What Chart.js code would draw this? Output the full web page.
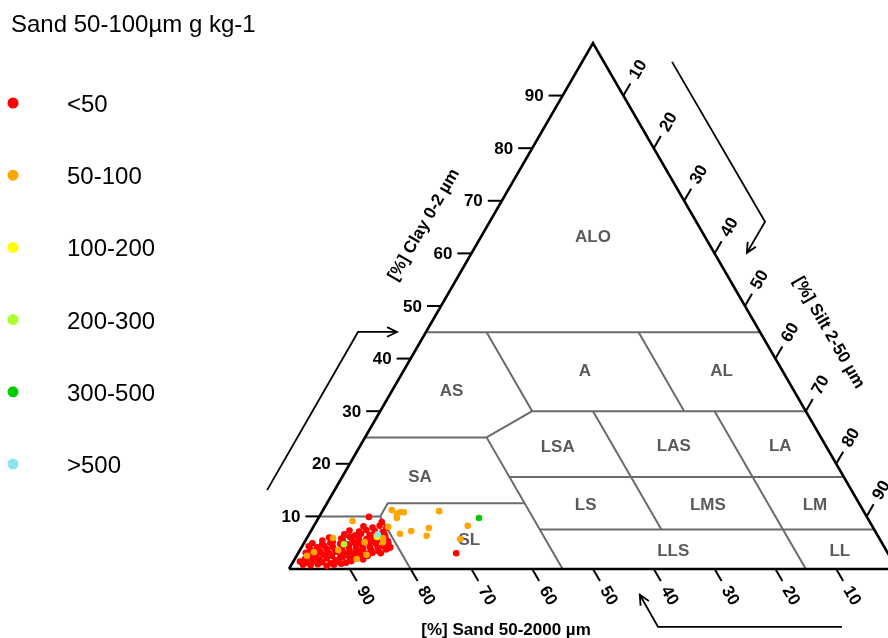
<!DOCTYPE html>
<html>
<head>
<meta charset="utf-8">
<title>Texture triangle - sand 50-100 µm</title>
<script src="https://cdn.jsdelivr.net/npm/chart.js"></script>
<style>
  html, body { margin: 0; padding: 0; background: #fff; }
  #wrap { width: 888px; height: 638px; }
</style>
</head>
<body>
<div id="wrap"><canvas id="triangle" width="888" height="638"></canvas></div>
<script>
// Classes of fine sand 50-100 µm (g kg-1)
const classLabels = ['<50', '50-100', '100-200', '200-300', '300-500', '>500'];
const classColors = ['#ff0000', '#ffa500', '#ffff00', '#adff2f', '#00cd00', '#8ee5ee'];

// Samples: sand 50-2000 µm (%) and clay 0-2 µm (%), one pair of arrays per class
const sandLt50 = [
  97.3, 96.1, 94.8, 93.5, 92.2, 90.9,
  97.5, 96.4, 95.2, 93.9, 92.6, 91.3, 90.0, 89.0,
  96.4, 95.3, 94.1, 92.8, 91.5, 90.1, 89.0, 87.9, 86.9,
  95.5, 94.3, 93.0, 91.7, 90.4, 89.2, 88.1, 86.9, 85.8,
  95.7, 94.6, 93.2, 91.9, 90.6, 89.3, 88.1, 87.0, 85.8, 84.7, 83.4,
  94.6, 93.3, 91.9, 90.6, 89.5, 88.2, 87.0, 85.9, 84.7, 83.6, 82.2,
  94.6, 93.3, 92.0, 90.7, 89.3, 88.0, 86.9, 85.7, 84.6, 83.4, 82.3, 81.3,
  93.7, 92.2, 90.7, 89.2, 87.9, 86.7, 85.6, 84.4, 83.3, 82.1, 81.2,
  91.8, 90.2, 88.4, 86.9, 85.7, 84.6, 83.4, 82.3, 81.1,
  90.4, 88.5, 86.9, 85.6, 84.4, 83.3, 82.1, 81.1,
  87.6, 85.9, 84.8, 83.5, 82.0, 81.0,
  86.4, 84.9, 83.6, 82.3, 81.1,
  83.7, 82.3, 81.0,
  81.9, 80.3, 71.0, 80.1, 81.7
];
const clayLt50 = [
  0.8, 0.7, 0.9, 0.6, 0.8, 1.0,
  1.4, 1.2, 1.5, 1.3, 1.1, 1.4, 1.2, 1.5,
  1.9, 2.1, 1.8, 2.0, 1.7, 2.2, 1.9, 2.0, 1.8,
  2.6, 2.4, 2.7, 2.5, 2.3, 2.6, 2.4, 2.7, 2.5,
  3.1, 2.9, 3.2, 3.0, 3.3, 2.9, 3.1, 3.2, 2.9, 3.1, 3.0,
  3.7, 3.5, 3.8, 3.6, 3.4, 3.7, 3.5, 3.8, 3.6, 3.4, 3.7,
  4.3, 4.1, 4.4, 4.2, 4.0, 4.3, 4.1, 4.4, 4.2, 4.0, 4.3, 4.1,
  4.9, 4.7, 5.0, 4.8, 4.6, 4.9, 4.7, 5.0, 4.8, 4.6, 4.9,
  5.4, 5.2, 5.5, 5.3, 5.1, 5.4, 5.2, 5.5, 5.3,
  6.0, 5.8, 6.1, 5.9, 5.7, 6.0, 5.8, 6.1,
  6.6, 6.4, 6.7, 6.5, 6.3, 6.6,
  7.3, 7.1, 7.4, 7.2, 7.0,
  8.1, 7.9, 8.2,
  9.9, 8.9, 3.0, 7.8, 4.0
];
const sand50to100 = [85.0, 77.5, 77.0, 77.4, 76.3, 75.7, 69.8, 78.4, 76.3, 73.1, 74.2, 66.5, 69.0,
                     89.8, 87.9, 94.3, 85.0, 81.6, 85.9, 90.1, 82.0, 95.8, 79.7];
const clay50to100 = [9.1, 11.2, 10.5, 9.7, 10.8, 10.8, 11.0, 6.7, 7.2, 7.8, 6.3, 8.2, 5.7,
                     5.9, 1.9, 3.2, 5.1, 5.9, 2.7, 3.6, 5.1, 2.5, 8.0];
const sand100to200 = [82.5];
const clay100to200 = [6.1];
const sand200to300 = [88.6];
const clay200to300 = [4.7];
const sand300to500 = [63.9];
const clay300to500 = [9.7];
const sandGt500 = [82.1];
const clayGt500 = [6.6];

// Axis ticks (%)
const tickValues = [10, 20, 30, 40, 50, 60, 70, 80, 90];

// Texture classes (Aisne triangle): name and a (sand, clay) spot for the label
const regionNames = ['ALO', 'A', 'AL', 'AS', 'LSA', 'LAS', 'LA', 'SA', 'LS', 'LMS', 'LM', 'S', 'SL', 'LLS', 'LL'];
const regionSand  = [18.5, 32.6, 10.1, 56.4, 44.2, 25.0, 7.5, 69.7, 45.1, 25.0, 7.4, 88.3, 67.6, 35.1, 7.7];
const regionClay  = [63.0, 37.5, 37.5, 33.7, 23.2, 23.4, 23.4, 17.5, 12.2, 12.2, 12.2, 4.9, 5.5, 3.4, 3.4];

// Class boundaries as (sand, clay) vertices
const borders = [
  [[55, 45], [0, 45]],
  [[45, 45], [45, 30], [55, 25], [55, 0]],
  [[75, 25], [55, 25]],
  [[45, 30], [0, 30]],
  [[20, 45], [20, 30]],
  [[35, 30], [35, 7.5]],
  [[15, 30], [15, 0]],
  [[55, 17.5], [0, 17.5]],
  [[55, 7.5], [0, 7.5]],
  [[90, 10], [80, 10], [77.5, 12.5], [55, 12.5]],
  [[80, 10], [80, 0]]
];
const frame = [[100, 0], [0, 100], [0, 0], [100, 0]];

// ternary (sand, clay) -> plot units; silt = 100 - sand - clay
const tern = (sand, clay) => ({ x: 100 - sand - clay / 2, y: clay });

const classSand = [sandLt50, sand50to100, sand100to200, sand200to300, sand300to500, sandGt500];
const classClay = [clayLt50, clay50to100, clay100to200, clay200to300, clay300to500, clayGt500];
const drawOrder = [5, 4, 2, 3, 0, 1];

const pointSets = classLabels.map((lab, i) => ({
  label: lab,
  data: classSand[i].map((s, j) => tern(s, classClay[i][j])),
  backgroundColor: classColors[i],
  borderWidth: 0,
  pointRadius: 3.3,
  order: drawOrder[i]
}));

const borderSets = borders.map(path => ({
  data: path.map(p => tern(p[0], p[1])),
  showLine: true,
  borderColor: '#6b6b6b',
  borderWidth: 2,
  pointRadius: 0,
  order: 20
}));

const frameSet = {
  data: frame.map(p => tern(p[0], p[1])),
  showLine: true,
  borderColor: '#000',
  borderWidth: 2.6,
  pointRadius: 0,
  order: 10
};

const FONT = '"Liberation Sans", Arial, sans-serif';

function arrow(ctx, pts) {
  ctx.beginPath();
  ctx.moveTo(pts[0][0], pts[0][1]);
  for (let i = 1; i < pts.length; i++) ctx.lineTo(pts[i][0], pts[i][1]);
  ctx.stroke();
  const a = pts[pts.length - 2], b = pts[pts.length - 1];
  const ang = Math.atan2(b[1] - a[1], b[0] - a[0]);
  ctx.beginPath();
  ctx.moveTo(b[0] - 11 * Math.cos(ang - 0.45), b[1] - 11 * Math.sin(ang - 0.45));
  ctx.lineTo(b[0], b[1]);
  ctx.lineTo(b[0] - 11 * Math.cos(ang + 0.45), b[1] - 11 * Math.sin(ang + 0.45));
  ctx.stroke();
}

const decor = {
  id: 'decor',
  beforeDatasetsDraw(chart) {
    const { ctx, scales: { x, y } } = chart;
    ctx.save();
    ctx.font = 'bold 17px ' + FONT;
    ctx.fillStyle = '#5a5a5a';
    ctx.textAlign = 'center';
    ctx.textBaseline = 'middle';
    regionNames.forEach((n, i) => {
      const t = tern(regionSand[i], regionClay[i]);
      ctx.fillText(n, x.getPixelForValue(t.x), y.getPixelForValue(t.y));
    });
    ctx.restore();
  },
  afterDatasetsDraw(chart) {
    const { ctx, scales: { x, y } } = chart;
    const px = (sand, clay) => {
      const t = tern(sand, clay);
      return [x.getPixelForValue(t.x), y.getPixelForValue(t.y)];
    };
    const pp = (u, v) => [x.getPixelForValue(u), y.getPixelForValue(v)];

    // edge directions in pixels
    const left = px(100, 0), apex = px(0, 100), right = px(0, 0);
    const unit = (a, b) => { const dx = b[0] - a[0], dy = b[1] - a[1], l = Math.hypot(dx, dy); return [dx / l, dy / l]; };
    const upRight = unit(left, apex);
    const downRight = unit(apex, right);

    ctx.save();
    ctx.strokeStyle = '#000';
    ctx.fillStyle = '#000';
    ctx.lineWidth = 2;
    ctx.font = 'bold 17px ' + FONT;
    const tl = 14;

    tickValues.forEach(v => {
      // clay (left edge)
      let p = px(100 - v, v);
      ctx.beginPath(); ctx.moveTo(p[0], p[1]); ctx.lineTo(p[0] - tl, p[1]); ctx.stroke();
      ctx.textAlign = 'right'; ctx.textBaseline = 'middle';
      ctx.fillText(String(v), p[0] - tl - 5, p[1] + 1);

      // silt (right edge)
      p = px(0, 100 - v);
      ctx.beginPath(); ctx.moveTo(p[0], p[1]);
      ctx.lineTo(p[0] + upRight[0] * tl, p[1] + upRight[1] * tl); ctx.stroke();
      ctx.save();
      ctx.translate(p[0] + upRight[0] * (tl + 16), p[1] + upRight[1] * (tl + 16));
      ctx.rotate(Math.atan2(upRight[1], upRight[0]));
      ctx.textAlign = 'center'; ctx.textBaseline = 'middle';
      ctx.fillText(String(v), 0, 0);
      ctx.restore();

      // sand (bottom edge)
      p = px(v, 0);
      ctx.beginPath(); ctx.moveTo(p[0], p[1]);
      ctx.lineTo(p[0] + downRight[0] * tl, p[1] + downRight[1] * tl); ctx.stroke();
      ctx.save();
      ctx.translate(p[0] + downRight[0] * (tl + 17), p[1] + downRight[1] * (tl + 17));
      ctx.rotate(Math.atan2(downRight[1], downRight[0]));
      ctx.textAlign = 'center'; ctx.textBaseline = 'middle';
      ctx.fillText(String(v), 0, 0);
      ctx.restore();
    });

    // axis titles
    ctx.textAlign = 'center'; ctx.textBaseline = 'middle';
    let c = pp(35.7, -11.6);
    ctx.fillText('[%] Sand 50-2000 µm', c[0], c[1]);
    c = pp(22.2, 65.4);
    ctx.save(); ctx.translate(c[0], c[1]); ctx.rotate(Math.atan2(upRight[1], upRight[0]));
    ctx.fillText('[%] Clay 0-2 µm', 0, 0); ctx.restore();
    c = pp(88.8, 44.9);
    ctx.save(); ctx.translate(c[0], c[1]); ctx.rotate(Math.atan2(downRight[1], downRight[0]));
    ctx.fillText('[%] Silt 2-50 µm', 0, 0); ctx.restore();

    // reading direction arrows
    ctx.lineWidth = 1.8;
    arrow(ctx, [pp(-3.6, 15.0), pp(11.35, 45.06), pp(17.76, 45.06)]);
    arrow(ctx, [pp(63.0, 96.4), pp(78.3, 66.0), pp(75.3, 60.1)]);
    arrow(ctx, [pp(90.95, -11.0), pp(60.7, -11.0), pp(57.7, -4.9)]);
    ctx.restore();
  },
  afterDraw(chart) {
    const { ctx } = chart;
    ctx.save();
    ctx.fillStyle = '#000';
    ctx.font = '24px ' + FONT;
    ctx.textAlign = 'left';
    ctx.textBaseline = 'alphabetic';
    ctx.fillText('Sand 50-100µm g kg-1', 11, 32);
    classLabels.forEach((lab, i) => {
      const yy = 103 + i * 72.2;
      ctx.fillStyle = classColors[i];
      ctx.beginPath(); ctx.arc(13, yy, 5.5, 0, Math.PI * 2); ctx.fill();
      ctx.fillStyle = '#000';
      ctx.fillText(lab, 67, yy + 9);
    });
    ctx.restore();
  }
};

new Chart(document.getElementById('triangle'), {
  type: 'scatter',
  data: { datasets: [...pointSets, frameSet, ...borderSets] },
  options: {
    responsive: false,
    animation: false,
    events: [],
    layout: { padding: 0, autoPadding: false },
    scales: {
      x: { type: 'linear', display: false, min: -47.53, max: 98.52 },
      y: { type: 'linear', display: false, min: -13.12, max: 108.17 }
    },
    plugins: {
      legend: { display: false },
      tooltip: { enabled: false }
    }
  },
  plugins: [decor]
});
</script>
</body>
</html>
